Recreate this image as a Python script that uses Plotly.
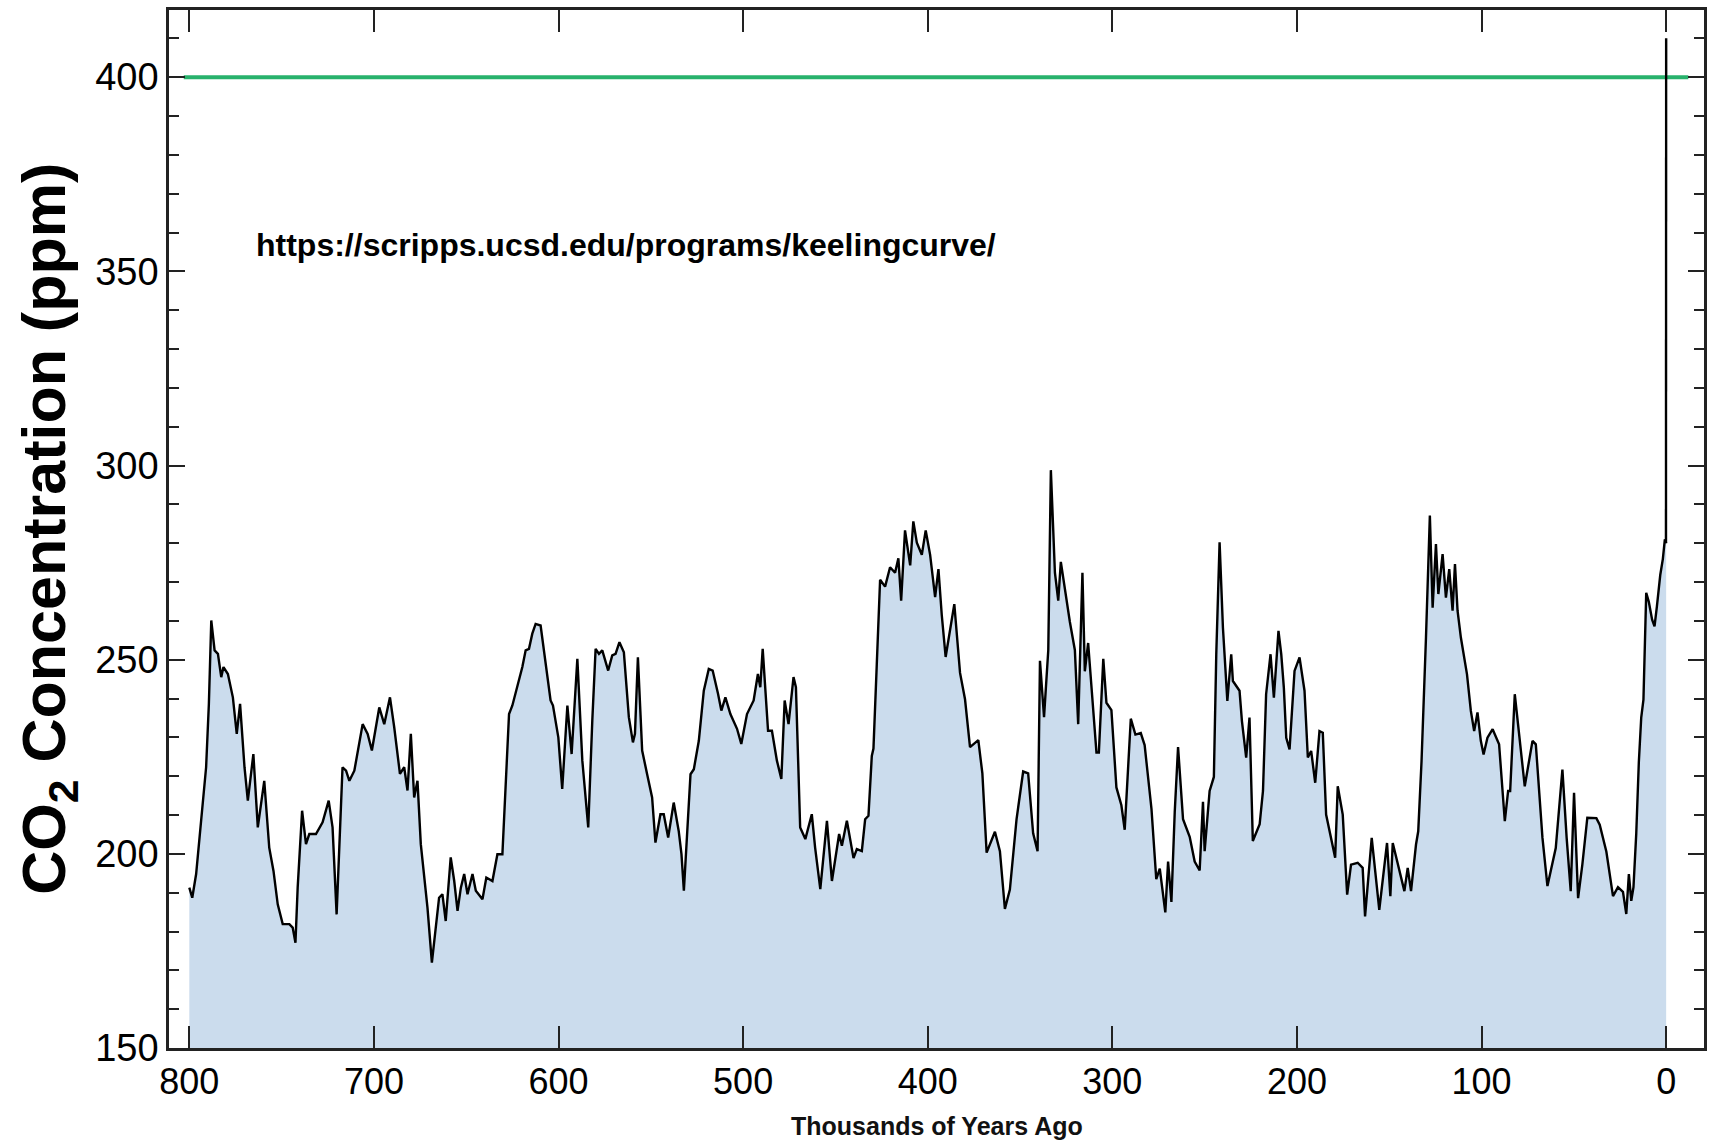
import plotly.graph_objects as go

# Ice-core CO2 record (thousands of years ago, ppm)
kyr = [800.0, 798.4, 796.3, 794.5, 793.6, 791.8, 790.9, 789.4, 788.1, 786.3, 784.5, 782.7, 781.5, 779.1, 776.4, 774.3,
       772.5, 770.1, 768.3, 765.3, 762.9, 759.4, 756.7, 754.4, 752.1, 749.4, 745.8, 744.0, 742.5, 741.3, 738.9, 736.8,
       735.0, 731.4, 727.8, 724.5, 722.4, 720.2, 718.4, 717.0, 715.1, 713.3, 710.6, 706.1, 703.4, 701.1, 697.1, 694.4,
       691.3, 689.0, 685.9, 683.6, 681.8, 680.0, 678.2, 676.4, 674.6, 672.8, 671.0, 668.6, 666.5, 664.7, 662.9, 661.1,
       658.4, 656.5, 654.7, 652.9, 651.1, 649.3, 646.6, 644.8, 641.2, 639.1, 635.8, 633.1,
       630.4, 628.6, 626.8, 625.0, 622.3, 619.6, 617.8, 616.0, 614.2, 612.4, 609.7, 607.0, 604.3, 603.0, 600.1, 598.0,
       595.2, 592.9, 589.8, 587.1, 583.9, 581.7, 579.9, 578.1, 576.3, 573.1, 570.9, 569.1, 567.0, 564.6, 561.9, 559.7,
       558.6, 557.0, 554.7, 552.0, 549.3, 547.5, 544.8, 543.0, 540.6, 537.6, 534.9, 533.4, 532.1, 528.5, 526.7, 524.0,
       521.3, 518.6, 516.5, 513.6, 511.8, 509.6, 506.9, 503.3, 501.0, 497.9, 494.3, 492.0, 490.7, 489.4, 488.0, 486.5,
       484.4, 481.7, 479.3, 477.5, 475.4, 472.7, 471.4, 469.1, 466.3, 462.8, 461.0, 458.2, 454.6, 451.9, 448.0, 446.5,
       443.8,
       440.2, 438.4, 435.7, 433.9, 432.1, 430.3, 429.4, 427.6, 425.8, 423.1, 420.4, 417.7, 415.9, 414.4, 412.3, 409.5,
       407.8, 405.9, 403.2, 401.1, 398.7, 396.0, 394.2, 392.4, 390.3, 385.6, 382.5, 379.8, 377.1, 372.6, 370.4, 368.1,
       363.6, 360.9, 358.2, 355.5, 351.9, 348.3, 345.6, 342.9, 340.5, 339.2, 337.0, 334.7, 333.3, 331.1, 329.3, 327.9,
       324.8, 323.0, 320.3, 318.5, 316.2, 314.9, 313.1, 310.4, 308.6, 307.3, 304.9, 303.2, 300.5, 297.8, 295.1, 293.3,
       290.0, 287.5, 284.6, 282.5, 278.8, 276.2, 274.3, 271.3, 269.8, 268.0, 266.2, 264.4, 261.7, 258.1, 255.4, 252.7,
       250.9, 250.0, 247.3, 245.0,
       243.7, 241.9, 240.1, 237.7, 235.6, 234.7, 231.1, 229.8, 227.5, 225.7, 223.9, 220.2, 218.4, 216.7, 214.3, 212.5,
       210.0, 208.5, 207.1, 205.8, 204.0, 201.3, 198.6, 195.9, 194.1, 192.3, 190.1, 187.8, 186.0, 184.2, 179.3, 177.9,
       175.2, 172.8, 170.7, 167.1, 164.4, 163.1, 159.5, 155.4, 151.2, 149.4, 148.1, 141.8, 140.0, 138.2, 135.5, 134.3,
       132.5, 130.1, 128.0, 126.5, 124.7, 123.4, 121.1, 119.3, 117.5, 115.7, 114.4, 113.0, 111.2, 107.9, 105.8, 104.0,
       102.2, 100.4, 98.9, 96.8, 94.0, 90.5, 87.4, 85.6, 84.5, 82.0, 79.1, 76.6, 72.4, 70.6, 67.0, 64.3,
       59.8, 56.2, 53.9, 51.7, 49.9, 47.7, 45.4, 42.7,
       37.8, 36.0, 32.4, 28.8, 26.1, 23.4, 21.6, 20.2, 18.9, 17.7, 16.2, 14.8, 13.5, 12.3, 10.8, 9.4,
       7.6, 6.3, 5.0, 3.2, 1.8, 0.7, 0.0]

co2 = [191.3, 188.7, 194.8, 204.2, 209.4, 218.0, 222.3, 238.6, 260.1, 252.4, 251.5, 245.5, 248.1, 246.3, 240.3, 230.9,
       238.6, 222.3, 213.7, 225.7, 206.8, 218.8, 201.6, 195.6, 187.0, 181.9, 181.9, 181.0, 177.1, 191.3, 211.1, 202.5,
       205.1, 205.1, 208.1, 213.7, 206.8, 184.4, 205.1, 222.3, 221.4, 218.8, 221.4, 233.4, 230.9, 226.6, 237.7, 233.4,
       240.3, 232.6, 220.6, 222.3, 216.3, 230.9, 214.5, 218.8, 202.5, 193.9, 186.2, 172.0, 181.0, 188.7, 189.6, 182.7,
       199.1, 193.0, 185.3, 191.3, 194.8, 189.6, 194.8, 190.5, 188.3, 193.9, 193.0, 199.9,
       199.9, 217.1, 236.0, 238.2, 242.9, 248.1, 252.4, 252.8, 256.7, 259.2, 258.8, 248.9, 239.5, 238.2, 230.0, 216.7,
       238.2, 225.7, 250.2, 224.0, 206.8, 234.3, 252.8, 251.5, 252.4, 247.2, 251.1, 251.5, 254.5, 251.9, 235.2, 228.7,
       230.9, 250.6, 226.6, 220.5, 214.5, 202.9, 210.2, 210.2, 204.2, 213.2, 205.9, 199.9, 190.5, 220.5, 221.8, 229.1,
       242.0, 247.6, 247.2, 241.2, 236.9, 240.3, 236.0, 232.2, 228.3, 236.0, 239.5, 246.3, 242.9, 252.8, 241.2, 231.7,
       231.7, 224.0, 219.3, 239.5, 233.4, 245.5, 242.9, 206.8, 203.8, 210.2, 201.6, 190.9, 208.5, 193.0, 205.1, 202.1,
       208.5,
       198.9, 201.2, 200.7, 208.9, 209.8, 225.2, 227.1, 248.8, 270.6, 268.8, 273.8, 272.4, 276.1, 265.2, 283.3, 274.3,
       285.6, 280.1, 277.0, 283.3, 277.0, 266.1, 273.3, 261.5, 250.7, 264.3, 246.6, 239.8, 227.5, 229.3, 220.7, 200.3,
       205.7, 200.7, 185.8, 190.8, 208.9, 221.2, 220.7, 205.3, 200.7, 249.7, 235.2, 252.5, 298.8, 272.4, 265.2, 275.2,
       265.2, 259.7, 252.5, 233.4, 272.4, 247.0, 254.3, 237.0, 226.1, 226.1, 250.2, 238.9, 237.0, 217.1, 212.5, 206.2,
       234.8, 230.7, 231.1, 228.0, 211.6, 193.5, 196.2, 184.9, 198.0, 187.6, 210.7, 227.5, 208.9, 204.4, 198.0, 195.7,
       213.4, 200.7, 216.2, 219.8,
       251.4, 280.2, 258.3, 239.4, 251.4, 244.5, 242.0, 234.2, 224.8, 235.1, 203.3, 207.6, 216.2, 241.1, 251.4, 240.2,
       257.4, 251.4, 242.8, 229.9, 226.9, 247.1, 250.6, 242.0, 224.8, 226.5, 218.3, 231.6, 231.2, 210.1, 199.0, 217.4,
       210.1, 189.5, 197.2, 197.7, 196.4, 183.9, 204.1, 185.6, 202.8, 189.1, 202.8, 190.4, 196.4, 190.4, 202.4, 205.8,
       223.9, 255.7, 287.1, 263.4, 279.8, 266.9, 277.2, 266.0, 273.3, 262.6, 274.6, 262.6, 255.7, 246.3, 236.8, 231.6,
       236.4, 229.1, 225.6, 229.9, 232.1, 228.2, 208.4, 216.2, 216.2, 241.1, 229.1, 217.4, 229.1, 228.2, 204.1, 191.7,
       201.5, 221.7, 204.1, 190.4, 215.7, 188.6, 197.2, 209.3,
       209.2, 207.5, 200.6, 189.1, 191.4, 190.2, 184.5, 194.8, 187.9, 191.4, 205.2, 223.6, 235.1, 239.7, 267.2, 264.9,
       260.3, 258.6, 263.8, 271.8, 275.9, 281.0, 280.0]

# Modern (instrumental era) rise at the right edge
spike_kyr = [0.1, 0.0]
spike_ppm = [280.0, 410.0]

x_ticks = [800, 700, 600, 500, 400, 300, 200, 100, 0]
y_ticks = [150, 200, 250, 300, 350, 400]
reference_level = 400

sans = "Liberation Sans, Arial, sans-serif"

fig = go.Figure()
fig.add_trace(go.Scatter(
    x=kyr, y=co2, mode="lines", fill="tozeroy",
    fillcolor="rgb(203,220,237)",
    line=dict(color="black", width=2.4), hoverinfo="x+y", showlegend=False))
fig.add_trace(go.Scatter(
    x=spike_kyr, y=spike_ppm, mode="lines",
    line=dict(color="black", width=2.4), showlegend=False))

fig.add_shape(type="line", xref="x", yref="y", x0=803, x1=-12,
              y0=reference_level, y1=reference_level,
              line=dict(color="rgb(40,178,108)", width=4), layer="below")

fig.add_annotation(x=764.7, y=356.7, xref="x", yref="y",
                   text="<b>https://scripps.ucsd.edu/programs/keelingcurve/</b>",
                   showarrow=False, xanchor="left", yanchor="middle",
                   font=dict(family=sans, size=32, color="black"))

fig.add_annotation(x=-0.079, y=0.5, xref="paper", yref="paper",
                   text="<b>CO<sub>2</sub> Concentration (ppm)</b>",
                   textangle=-90, showarrow=False, xanchor="center", yanchor="middle",
                   font=dict(family=sans, size=61, color="black"))

fig.add_annotation(x=0.5, y=-0.075, xref="paper", yref="paper",
                   text="<b>Thousands of Years Ago</b>",
                   showarrow=False, xanchor="center", yanchor="middle",
                   font=dict(family=sans, size=25, color="#111"))

fig.update_xaxes(range=[811, -20.5], tickvals=x_ticks, ticktext=[str(v) for v in x_ticks],
                 ticks="inside", ticklen=22, tickwidth=2, tickcolor="#222",
                 showline=True, linewidth=2.5, linecolor="#222", mirror="ticks",
                 showgrid=False, zeroline=False, ticklabelstandoff=0,
                 tickfont=dict(family=sans, size=36, color="black"))
fig.update_yaxes(range=[150, 417.3], tickvals=y_ticks, ticktext=[str(v) for v in y_ticks],
                 ticks="inside", ticklen=16, tickwidth=2, tickcolor="#222",
                 minor=dict(dtick=10, tick0=150, ticklen=10, tickwidth=2, tickcolor="#222", ticks="inside"),
                 showline=True, linewidth=2.5, linecolor="#222", mirror="ticks",
                 showgrid=False, zeroline=False, ticklabelstandoff=0,
                 tickfont=dict(family=sans, size=38, color="black"))

fig.update_layout(width=1714, height=1142,
                  margin=dict(l=169, r=7, t=7, b=94),
                  paper_bgcolor="white", plot_bgcolor="white",
                  showlegend=False)

fig.write_html("out.html", config={"displayModeBar": False},
               post_script="document.body.style.margin='0';document.body.style.overflow='hidden';")
